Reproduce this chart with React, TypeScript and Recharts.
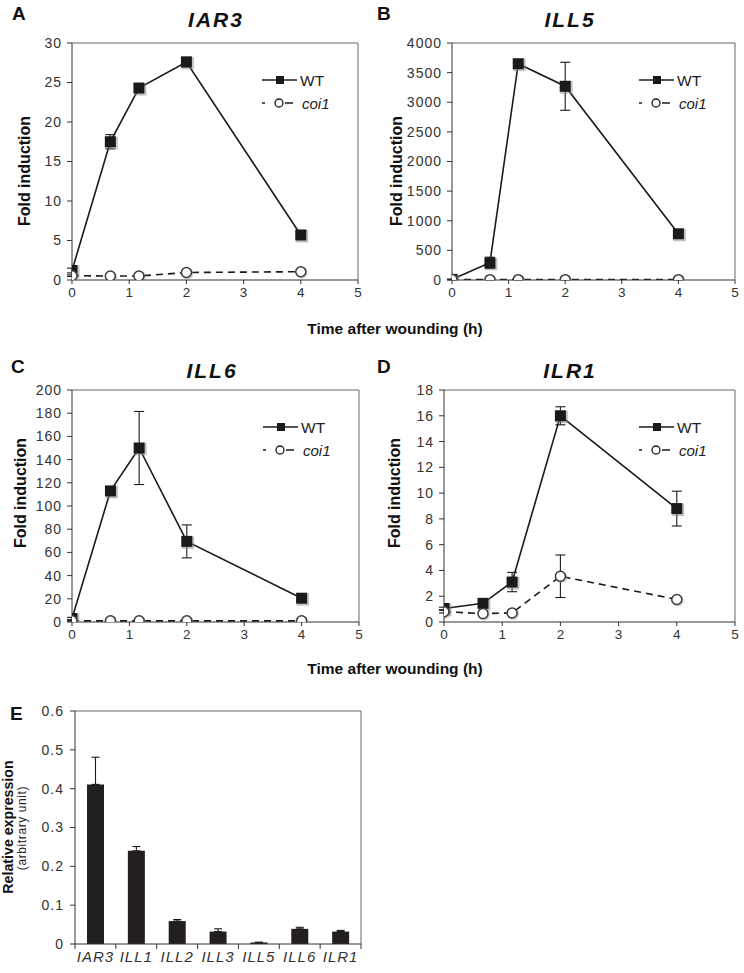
import React from 'react';
import { Bar, BarChart, CartesianGrid, ErrorBar, Line, LineChart, XAxis, YAxis } from 'recharts';

const FONT = '"Liberation Sans", Arial, Helvetica, sans-serif';
const INK = '#1a1a1a';
const AXIS = '#333';
const FRAME = '#666';

// hours after wounding
const TIMES = [0, 0.67, 1.17, 2, 4];
const X_TICKS = [0, 1, 2, 3, 4, 5];

const IAR3_WT = [1.2, 17.5, 24.3, 27.6, 5.7];
const IAR3_WT_ERR = [0.3, 0.9, 0.3, 0.6, 0.3];
const IAR3_COI = [0.55, 0.5, 0.5, 0.95, 1.05];
const IAR3_COI_ERR = [0.1, 0.1, 0.1, 0.1, 0.1];
const IAR3_TICKS = [0, 5, 10, 15, 20, 25, 30];

const ILL5_WT = [10, 290, 3650, 3270, 780];
const ILL5_WT_ERR = [5, 95, 40, 405, 40];
const ILL5_COI = [8, 6, 6, 6, 6];
const ILL5_COI_ERR = [2, 2, 2, 2, 2];
const ILL5_TICKS = [0, 500, 1000, 1500, 2000, 2500, 3000, 3500, 4000];

const ILL6_WT = [3, 113, 150, 69.5, 20.5];
const ILL6_WT_ERR = [1, 2, 31.5, 14.2, 1.5];
const ILL6_COI = [1, 1, 1, 1, 1];
const ILL6_COI_ERR = [0.2, 0.2, 0.2, 0.2, 0.2];
const ILL6_TICKS = [0, 20, 40, 60, 80, 100, 120, 140, 160, 180, 200];

const ILR1_WT = [1.05, 1.45, 3.1, 16.0, 8.8];
const ILR1_WT_ERR = [0.1, 0.1, 0.75, 0.7, 1.35];
const ILR1_COI = [0.8, 0.65, 0.7, 3.55, 1.75];
const ILR1_COI_ERR = [0.1, 0.05, 0.1, 1.65, 0.1];
const ILR1_TICKS = [0, 2, 4, 6, 8, 10, 12, 14, 16, 18];

// panel E, basal expression
const GENES = ['IAR3', 'ILL1', 'ILL2', 'ILL3', 'ILL5', 'ILL6', 'ILR1'];
const BASAL = [0.411, 0.24, 0.059, 0.032, 0.004, 0.039, 0.032];
const BASAL_ERR = [0.07, 0.011, 0.004, 0.007, 0.0005, 0.004, 0.003];
const BASAL_TICKS = [0, 0.1, 0.2, 0.3, 0.4, 0.5, 0.6];

const BOX_A = { left: 72, top: 43, right: 358, bottom: 280 };
const BOX_B = { left: 452, top: 43, right: 735, bottom: 280 };
const BOX_C = { left: 72, top: 390, right: 359, bottom: 622 };
const BOX_D = { left: 444, top: 390, right: 735, bottom: 622 };
const BOX_E = { left: 75, top: 711, right: 361, bottom: 944 };

function rows(wt: number[], wtErr: number[], coi: number[], coiErr: number[]) {
  return TIMES.map((t, i) => ({ t, wt: wt[i], wtErr: wtErr[i], coi: coi[i], coiErr: coiErr[i] }));
}

const frameTop = ({ offset }: any) => [offset.top];
const frameRight = ({ offset }: any) => [offset.left + offset.width];

const WtDot = (p: any) => {
  const { cx, cy, index } = p;
  if (cx == null || cy == null) return <g key={`w${index}`} />;
  return (
    <g key={`w${index}`}>
      <rect x={cx - 5} y={cy - 5} width={12.5} height={12.5} fill="#8a8a8a" opacity={0.5} />
      <rect x={cx - 5.5} y={cy - 5.5} width={11} height={11} fill={INK} />
    </g>
  );
};

const CoiDot = (p: any) => {
  const { cx, cy, index } = p;
  if (cx == null || cy == null) return <g key={`c${index}`} />;
  return (
    <g key={`c${index}`}>
      <circle cx={cx + 1} cy={cy + 1} r={6} fill="#9a9a9a" opacity={0.45} />
      <circle cx={cx} cy={cy} r={5} fill="#fff" stroke="#3a3a3a" strokeWidth={1.5} />
    </g>
  );
};

function TimeCourse({ box, data, yMax, yTicks }: any) {
  const ML = 60, MT = 10, MR = 8, MB = 30;
  const w = box.right - box.left + ML + MR;
  const h = box.bottom - box.top + MT + MB;
  return (
    <div style={{ position: 'absolute', left: box.left - ML, top: box.top - MT }}>
      <LineChart width={w} height={h} data={data} margin={{ top: MT, right: MR, bottom: 0, left: 0 }}>
        <CartesianGrid
          stroke={FRAME}
          strokeWidth={1}
          horizontalCoordinatesGenerator={frameTop}
          verticalCoordinatesGenerator={frameRight}
        />
        <XAxis
          type="number"
          dataKey="t"
          domain={[0, 5]}
          ticks={X_TICKS}
          interval={0}
          allowDataOverflow
          height={MB}
          stroke={AXIS}
          tickSize={4}
          tickMargin={3}
          tick={{ fontSize: 13.5, fill: '#333', fontFamily: FONT }}
        />
        <YAxis
          type="number"
          domain={[0, yMax]}
          ticks={yTicks}
          interval={0}
          allowDataOverflow
          width={ML}
          stroke={AXIS}
          tickSize={5}
          tickMargin={5}
          tick={{ fontSize: 14, fill: '#333', fontFamily: FONT, letterSpacing: 1 }}
        />
        <Line
          dataKey="wt"
          type="linear"
          stroke={INK}
          strokeWidth={1.6}
          dot={WtDot}
          activeDot={false}
          isAnimationActive={false}
        >
          <ErrorBar dataKey="wtErr" direction="y" width={5} stroke={INK} strokeWidth={1.1} isAnimationActive={false} />
        </Line>
        <Line
          dataKey="coi"
          type="linear"
          stroke={INK}
          strokeWidth={1.6}
          strokeDasharray="7 5"
          dot={CoiDot}
          activeDot={false}
          isAnimationActive={false}
        >
          <ErrorBar dataKey="coiErr" direction="y" width={5} stroke={INK} strokeWidth={1.1} isAnimationActive={false} />
        </Line>
      </LineChart>
    </div>
  );
}

const BAND = (BOX_E.right - BOX_E.left) / GENES.length;

const GeneTick = (p: any) => {
  const { x, y, payload, index } = p;
  return (
    <g>
      {index === 0 && <line x1={x - BAND / 2} x2={x - BAND / 2} y1={y} y2={y + 5} stroke={AXIS} />}
      <line x1={x + BAND / 2} x2={x + BAND / 2} y1={y} y2={y + 5} stroke={AXIS} />
      <text
        x={x}
        y={y + 18}
        textAnchor="middle"
        fontSize={15}
        fontStyle="italic"
        letterSpacing={1}
        fill="#333"
        fontFamily={FONT}
      >
        {payload.value}
      </text>
    </g>
  );
};

function BasalChart() {
  const ML = 60, MT = 10, MR = 8, MB = 30;
  const box = BOX_E;
  const data = GENES.map((gene, i) => ({ gene, v: BASAL[i], err: [0, BASAL_ERR[i]] }));
  return (
    <div style={{ position: 'absolute', left: box.left - ML, top: box.top - MT }}>
      <BarChart
        width={box.right - box.left + ML + MR}
        height={box.bottom - box.top + MT + MB}
        data={data}
        margin={{ top: MT, right: MR, bottom: 0, left: 0 }}
      >
        <CartesianGrid
          stroke={FRAME}
          horizontalCoordinatesGenerator={frameTop}
          verticalCoordinatesGenerator={frameRight}
        />
        <XAxis
          dataKey="gene"
          interval={0}
          height={MB}
          stroke={AXIS}
          tickLine={false}
          tickSize={0}
          tickMargin={0}
          tick={GeneTick}
        />
        <YAxis
          type="number"
          domain={[0, 0.6]}
          ticks={BASAL_TICKS}
          interval={0}
          width={ML}
          stroke={AXIS}
          tickSize={5}
          tickMargin={6}
          tick={{ fontSize: 14, fill: '#333', fontFamily: FONT, letterSpacing: 1 }}
        />
        <Bar dataKey="v" fill="#231f20" barSize={17} isAnimationActive={false}>
          <ErrorBar dataKey="err" direction="y" width={4} stroke={INK} strokeWidth={1.1} isAnimationActive={false} />
        </Bar>
      </BarChart>
    </div>
  );
}

function LegendKey({ box }: any) {
  const r = box.right;
  const y1 = box.top + 37;
  const y2 = box.top + 60;
  return (
    <g>
      <line x1={r - 96} x2={r - 61} y1={y1} y2={y1} stroke={INK} strokeWidth={1.5} />
      <rect x={r - 82} y={y1 - 4} width={8} height={8} fill={INK} />
      <text x={r - 58} y={y1 + 5.5} fontSize={15.5} fill="#222" fontFamily={FONT}>WT</text>
      <line x1={r - 96} x2={r - 93} y1={y2} y2={y2} stroke={INK} strokeWidth={1.5} />
      <circle cx={r - 79} cy={y2} r={4} fill="#fff" stroke={INK} strokeWidth={1.3} />
      <line x1={r - 73} x2={r - 65} y1={y2} y2={y2} stroke={INK} strokeWidth={1.5} />
      <text x={r - 56} y={y2 + 5.5} fontSize={15} fontStyle="italic" fill="#222" fontFamily={FONT}>coi1</text>
    </g>
  );
}

function Annotations() {
  const letter = { fontSize: 19, fontWeight: 700, fill: '#111', fontFamily: FONT } as any;
  const title = { fontSize: 21, fontWeight: 700, fontStyle: 'italic', letterSpacing: 2, fill: '#111', fontFamily: FONT, textAnchor: 'middle' } as any;
  const yLab = { fontSize: 16, fontWeight: 700, fill: '#111', fontFamily: FONT, textAnchor: 'middle' } as any;
  const xLab = { fontSize: 15.5, fontWeight: 700, fill: '#111', fontFamily: FONT, textAnchor: 'middle' } as any;
  return (
    <svg width={744} height={973} style={{ position: 'absolute', left: 0, top: 0, pointerEvents: 'none' }}>
      <text x={12} y={20} {...letter}>A</text>
      <text x={377} y={20} {...letter}>B</text>
      <text x={11} y={373} {...letter}>C</text>
      <text x={377} y={373} {...letter}>D</text>
      <text x={10} y={720} {...letter}>E</text>

      <text x={216} y={27} {...title}>IAR3</text>
      <text x={570} y={27} {...title}>ILL5</text>
      <text x={212} y={378} {...title}>ILL6</text>
      <text x={570} y={378} {...title}>ILR1</text>

      <text x={30} y={171} transform="rotate(-90 30 171)" {...yLab}>Fold induction</text>
      <text x={402} y={171} transform="rotate(-90 402 171)" {...yLab}>Fold induction</text>
      <text x={26} y={493} transform="rotate(-90 26 493)" {...yLab}>Fold induction</text>
      <text x={400} y={493} transform="rotate(-90 400 493)" {...yLab}>Fold induction</text>

      <text x={395} y={334} {...xLab}>Time after wounding (h)</text>
      <text x={395} y={674} {...xLab}>Time after wounding (h)</text>

      <text x={13} y={827} transform="rotate(-90 13 827)" fontSize={14.2} fontWeight={700} fill="#111" fontFamily={FONT} textAnchor="middle">
        Relative expression
      </text>
      <text x={26} y={828} transform="rotate(-90 26 828)" fontSize={12} letterSpacing={0.6} fill="#222" fontFamily={FONT} textAnchor="middle">
        (arbitrary unit)
      </text>

      <LegendKey box={BOX_A} />
      <LegendKey box={BOX_B} />
      <LegendKey box={BOX_C} />
      <LegendKey box={BOX_D} />
    </svg>
  );
}

export default function App() {
  return (
    <div
      style={{
        position: 'absolute',
        left: 0,
        top: 0,
        width: 744,
        height: 973,
        overflow: 'hidden',
        background: '#fff',
        fontFamily: FONT,
      }}
    >
      <TimeCourse box={BOX_A} data={rows(IAR3_WT, IAR3_WT_ERR, IAR3_COI, IAR3_COI_ERR)} yMax={30} yTicks={IAR3_TICKS} />
      <TimeCourse box={BOX_B} data={rows(ILL5_WT, ILL5_WT_ERR, ILL5_COI, ILL5_COI_ERR)} yMax={4000} yTicks={ILL5_TICKS} />
      <TimeCourse box={BOX_C} data={rows(ILL6_WT, ILL6_WT_ERR, ILL6_COI, ILL6_COI_ERR)} yMax={200} yTicks={ILL6_TICKS} />
      <TimeCourse box={BOX_D} data={rows(ILR1_WT, ILR1_WT_ERR, ILR1_COI, ILR1_COI_ERR)} yMax={18} yTicks={ILR1_TICKS} />
      <BasalChart />
      <Annotations />
    </div>
  );
}
